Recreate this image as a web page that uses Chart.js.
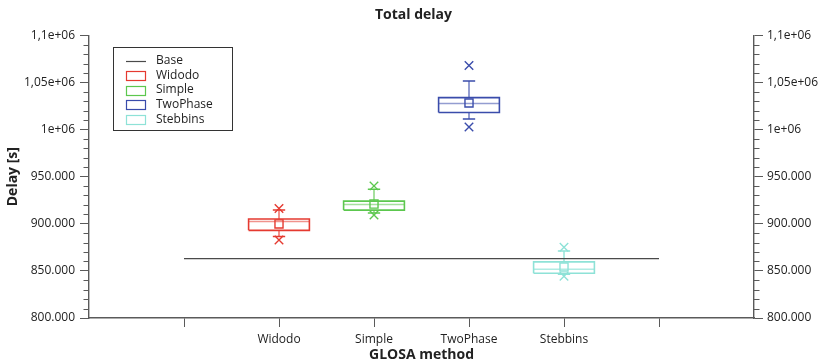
<!DOCTYPE html>
<html>
<head>
<meta charset="utf-8">
<title>Total delay</title>
<script src="https://cdn.jsdelivr.net/npm/chart.js@4.4.1/dist/chart.umd.min.js"></script>
<style>
  html, body { margin: 0; padding: 0; background: #fff; }
  canvas { display: block; }
</style>
</head>
<body>
<canvas id="chart" width="827" height="363"></canvas>
<script>
// Box plot statistics of total delay (s) per GLOSA method
const methods     = ['Widodo', 'Simple', 'TwoPhase', 'Stebbins'];
const q1          = [893000, 914500, 1018000, 847500];
const q3          = [905000, 924000, 1033900, 859600];
const medians     = [902500, 920400, 1027500, 851800];
const means       = [899800, 920900, 1028200, 854100];
const whiskerLow  = [886600, 911300, 1011300, 846500];
const whiskerHigh = [914500, 936700, 1051400, 871200];
const outlierLow  = [882800, 909200, 1002800, 844400];
const outlierHigh = [916200, 940200, 1068000, 875000];
const baseDelay   = 863100;          // reference delay without GLOSA
const baseSpan    = [0, 5];          // x extent of the base line
const xTickValues = [0, 1, 2, 3, 4, 5];
const yMin = 800000, yMax = 1100000, majorStep = 50000, minorStep = 10000;

const colors   = ['#e53a30', '#5cc74e', '#3a4cab', '#8ee2d7'];
const faded    = ['rgba(229,58,48,0.55)', 'rgba(92,199,78,0.55)', 'rgba(58,76,171,0.55)', 'rgba(142,226,215,0.7)'];
const baseColor = '#4a4a4a';
const axisColor = '#5a5a5a';
const textColor = '#222';
const boxHalf = 0.32, capHalf = 0.065;

Chart.defaults.font.family = "'Open Sans', 'Noto Sans', sans-serif";
Chart.defaults.font.size = 12;
Chart.defaults.color = textColor;

const datasets = [{
  label: 'Base',
  data: baseSpan.map(x => ({ x, y: baseDelay })),
  borderColor: baseColor, borderWidth: 1.2, pointRadius: 0
}];

methods.forEach((name, i) => {
  const x = i + 1;
  // box (Q1..Q3)
  datasets.push({
    label: name,
    data: [
      { x: x - boxHalf, y: q1[i] }, { x: x + boxHalf, y: q1[i] },
      { x: x + boxHalf, y: q3[i] }, { x: x - boxHalf, y: q3[i] },
      { x: x - boxHalf, y: q1[i] }
    ],
    borderColor: colors[i], borderWidth: 1.6, pointRadius: 0
  });
  // median
  datasets.push({
    label: name + ' median',
    data: [{ x: x - boxHalf, y: medians[i] }, { x: x + boxHalf, y: medians[i] }],
    borderColor: faded[i], borderWidth: 1.5, pointRadius: 0
  });
  // whisker stems
  datasets.push({
    label: name + ' whiskers',
    data: [
      { x, y: q3[i] }, { x, y: whiskerHigh[i] }, { x, y: null },
      { x, y: q1[i] }, { x, y: whiskerLow[i] }
    ],
    borderColor: faded[i], borderWidth: 2, pointRadius: 0
  });
  // whisker caps
  datasets.push({
    label: name + ' caps',
    data: [
      { x: x - capHalf, y: whiskerHigh[i] }, { x: x + capHalf, y: whiskerHigh[i] }, { x, y: null },
      { x: x - capHalf, y: whiskerLow[i] }, { x: x + capHalf, y: whiskerLow[i] }
    ],
    borderColor: colors[i], borderWidth: 1.5, pointRadius: 0
  });
  // mean
  datasets.push({
    label: name + ' mean',
    data: [{ x, y: means[i] }],
    showLine: false, pointStyle: 'rect', pointRadius: 5.7,
    borderColor: colors[i], backgroundColor: 'rgba(0,0,0,0)', pointBorderWidth: 1.4
  });
  // outliers
  datasets.push({
    label: name + ' outliers',
    data: [{ x, y: outlierLow[i] }, { x, y: outlierHigh[i] }],
    showLine: false, pointStyle: 'crossRot', pointRadius: 6,
    borderColor: colors[i], pointBorderWidth: 1.4
  });
});

function yLabel(v) {
  if (v >= 1e6) {
    return String(v / 1e6).replace('.', ',') + 'e+06';
  }
  return v.toLocaleString('de-DE');
}

// minor ticks on both value axes
const minorTicks = {
  id: 'minorTicks',
  afterDraw(chart) {
    const ctx = chart.ctx;
    ['y', 'y2'].forEach(id => {
      const s = chart.scales[id];
      const left = s.position === 'left';
      const edge = left ? s.right : s.left;
      const dir = left ? -1 : 1;
      ctx.save();
      ctx.strokeStyle = axisColor;
      ctx.lineWidth = 1;
      for (let v = s.min; v <= s.max; v += minorStep) {
        if (v % majorStep === 0) continue;
        const y = Math.round(s.getPixelForValue(v)) + 0.5;
        ctx.beginPath();
        ctx.moveTo(edge, y);
        ctx.lineTo(edge + dir * 5.5, y);
        ctx.stroke();
      }
      ctx.restore();
    });
  }
};

// framed legend inside the plot area
const boxLegend = {
  id: 'boxLegend',
  afterDraw(chart) {
    const ctx = chart.ctx;
    const area = chart.chartArea;
    const fx = area.left + 24, fy = area.top + 12, fw = 119, fh = 83;
    ctx.save();
    ctx.strokeStyle = '#333';
    ctx.lineWidth = 1;
    ctx.strokeRect(Math.round(fx) + 0.5, Math.round(fy) + 0.5, fw, fh);
    const labels = ['Base'].concat(methods);
    ctx.font = "12px 'Open Sans', 'Noto Sans', sans-serif";
    ctx.textBaseline = 'middle';
    ctx.textAlign = 'left';
    labels.forEach((lab, k) => {
      const cy = fy + 13.5 + k * 14.6;
      const sx = fx + 13;
      if (k === 0) {
        ctx.strokeStyle = baseColor;
        ctx.lineWidth = 1.2;
        ctx.beginPath();
        ctx.moveTo(sx, Math.round(cy) + 0.5);
        ctx.lineTo(sx + 20, Math.round(cy) + 0.5);
        ctx.stroke();
      } else {
        ctx.strokeStyle = colors[k - 1];
        ctx.lineWidth = 1.2;
        ctx.strokeRect(sx + 0.5, Math.round(cy - 4.5) + 0.5, 19, 9);
      }
      ctx.fillStyle = textColor;
      ctx.fillText(lab, fx + 43, cy);
    });
    ctx.restore();
  }
};

const yAxisCommon = {
  type: 'linear',
  min: yMin, max: yMax,
  grid: { drawOnChartArea: false, drawTicks: true, tickLength: 9, tickColor: axisColor, tickWidth: 1 },
  border: { display: true, color: axisColor, width: 1.4 },
  ticks: { stepSize: majorStep, callback: yLabel, color: textColor, font: { size: 12 } }
};

new Chart(document.getElementById('chart'), {
  type: 'line',
  data: { datasets },
  options: {
    responsive: false,
    animation: false,
    devicePixelRatio: 1,
    layout: { padding: 0 },
    elements: { line: { tension: 0, fill: false } },
    plugins: {
      legend: { display: false },
      tooltip: { enabled: false },
      title: {
        display: true, text: 'Total delay', color: textColor,
        font: { size: 14, weight: 'bold' },
        padding: { top: 7, bottom: 11.5 }
      }
    },
    scales: {
      x: {
        type: 'linear', position: 'bottom', min: -1, max: 6,
        afterBuildTicks: s => { s.ticks = xTickValues.map(v => ({ value: v })); },
        afterFit: s => { s.height = 45; },
        grid: { drawOnChartArea: false, drawTicks: true, tickLength: 9, tickColor: axisColor, tickWidth: 1 },
        border: { display: true, color: axisColor, width: 1.4 },
        ticks: {
          autoSkip: false, maxRotation: 0, padding: 5, color: textColor,
          callback: v => methods[v - 1] || ''
        },
        title: {
          display: true, text: 'GLOSA method', color: textColor,
          font: { size: 14, weight: 'bold' }, padding: { top: 0, bottom: 0 }
        }
      },
      y: Object.assign({}, yAxisCommon, {
        position: 'left',
        afterFit: s => { s.width = 89; },
        ticks: Object.assign({}, yAxisCommon.ticks, { padding: 5 }),
        title: {
          display: true, text: 'Delay [s]', color: textColor,
          font: { size: 14, weight: 'bold' }, padding: { top: 4.5, bottom: 0 }
        }
      }),
      y2: Object.assign({}, yAxisCommon, {
        position: 'right',
        afterFit: s => { s.width = 73; },
        ticks: Object.assign({}, yAxisCommon.ticks, { padding: 4 })
      })
    }
  },
  plugins: [minorTicks, boxLegend]
});
</script>
</body>
</html>
